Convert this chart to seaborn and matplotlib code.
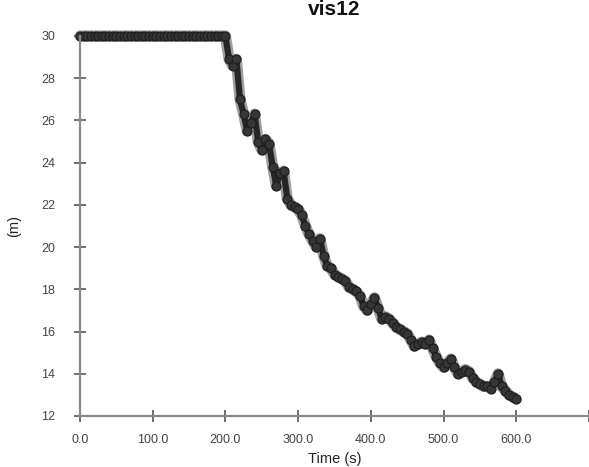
import matplotlib
matplotlib.use("Agg")
import matplotlib.pyplot as plt
import numpy as np
import pandas as pd
import seaborn as sns

# ---- data ----
title = "vis12"
x_label = "Time (s)"
y_label = "(m)"
x_ticks = [0, 100, 200, 300, 400, 500, 600, 700]
x_tick_labels = ["0.0", "100.0", "200.0", "300.0", "400.0", "500.0", "600.0", ""]
y_ticks = [12, 14, 16, 18, 20, 22, 24, 26, 28, 30]

# flat part: 0 .. 195 s every 5 s, value stays at 30
flat_values = [30.0] * 40
# descending part: 200 .. 600 s every 5 s
desc_values = [
    30.0, 28.9, 28.6, 28.9, 27.0, 26.3, 25.5, 25.9, 26.3, 25.0,
    24.6, 25.1, 24.9, 23.8, 22.9, 23.5, 23.6, 22.3, 22.0, 21.9,
    21.8, 21.5, 21.0, 20.6, 20.3, 20.0, 20.4, 19.6, 19.1, 19.0,
    18.7, 18.6, 18.5, 18.4, 18.1, 18.0, 17.9, 17.7, 17.2, 17.0,
    17.3, 17.6, 17.1, 16.6, 16.7, 16.6, 16.4, 16.2, 16.1, 16.0,
    15.9, 15.6, 15.3, 15.4, 15.5, 15.4, 15.6, 15.2, 14.8, 14.5,
    14.3, 14.5, 14.7, 14.3, 14.0, 14.1, 14.2, 14.1, 13.8, 13.6,
    13.5, 13.4, 13.4, 13.3, 13.6, 14.0, 13.4, 13.2, 13.0, 12.9,
    12.8,
]
values = flat_values + desc_values
times = np.arange(len(values)) * 5.0

df = pd.DataFrame({"time": times, "value": values})

sns.set_style("white")
plt.rcParams["font.family"] = ["Liberation Sans", "DejaVu Sans"]

fig = plt.figure(figsize=(5.89, 4.67), dpi=100)
ax = fig.add_axes([80 / 589, 1 - 416 / 467, 509 / 589, 380 / 467])

# soft grey halo underneath, then the dark marker trail
sns.lineplot(
    data=df, x="time", y="value", ax=ax,
    color="#5e5e5e", linewidth=8.0, alpha=0.6, clip_on=False,
    solid_capstyle="round", solid_joinstyle="round",
)
sns.lineplot(
    data=df, x="time", y="value", ax=ax,
    color="#262626", linewidth=4.5,
    marker="o", markersize=6.5,
    markerfacecolor="#363636", markeredgecolor="#1c1c1c",
    markeredgewidth=0.8, clip_on=False,
    solid_capstyle="round", solid_joinstyle="round",
)

ax.set_xlim(0, 700)
ax.set_ylim(12, 30)
ax.set_xticks(x_ticks)
ax.set_xticklabels(x_tick_labels)
ax.set_yticks(y_ticks)
ax.set_yticklabels([str(v) for v in y_ticks])

for side in ["top", "right"]:
    ax.spines[side].set_visible(False)
for side in ["left", "bottom"]:
    ax.spines[side].set_color("#8a8a8a")
    ax.spines[side].set_linewidth(1.6)

ax.tick_params(axis="both", which="major", bottom=True, left=True,
               direction="inout", length=8, width=1.2,
               color="#555555", labelcolor="#444444", labelsize=9)
ax.tick_params(axis="y", pad=14)
ax.tick_params(axis="x", pad=9)

ax.set_xlabel(x_label, fontsize=10.5, color="#222222", labelpad=4)
ax.set_ylabel(y_label, fontsize=10.5, color="#222222", labelpad=14)
ax.set_title(title, fontsize=15, fontweight="bold", color="#111111", pad=15)

fig.savefig("out.png", dpi=100)
